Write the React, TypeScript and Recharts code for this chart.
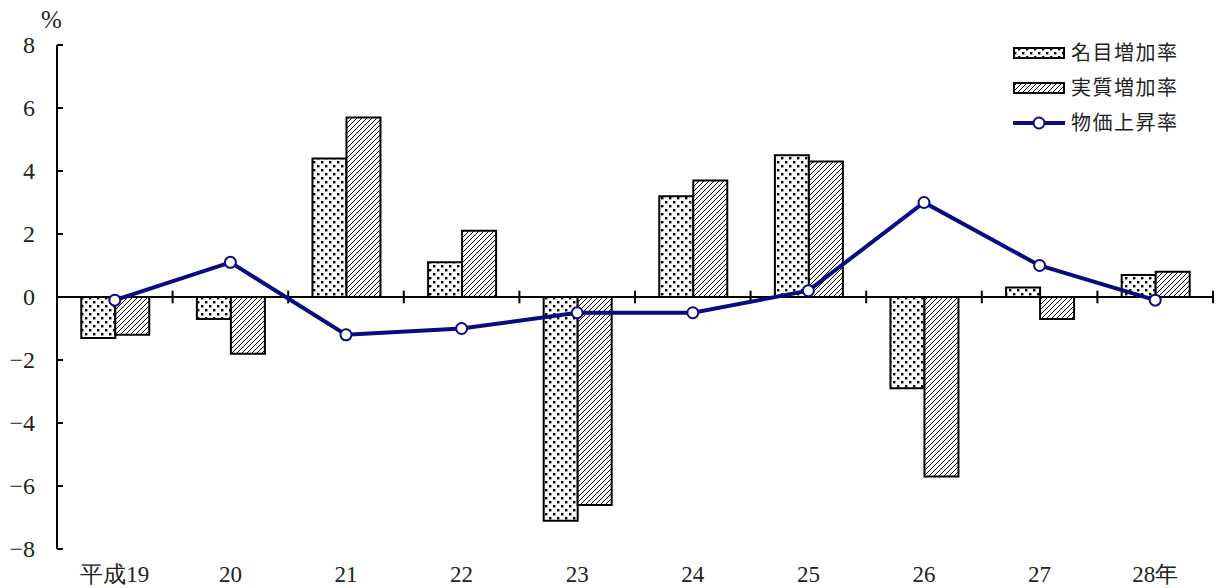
import { ComposedChart, Bar, Line, XAxis, YAxis, ReferenceLine } from 'recharts'

const SERIF = 'Liberation Serif, DejaVu Serif, serif'
const GOTHIC = 'Noto Sans CJK JP, Noto Sans, sans-serif'
const NAVY = '#0a0a82'

const WIDTH = 1218
const HEIGHT = 588
const MARGIN = { top: 45, right: 5, bottom: 0, left: 0 }
const Y_AXIS_W = 57

// 年次 (平成)
const years = ['平成19', '20', '21', '22', '23', '24', '25', '26', '27', '28年']
// 名目増加率・実質増加率・物価上昇率 (%)
const nominal = [-1.3, -0.7, 4.4, 1.1, -7.1, 3.2, 4.5, -2.9, 0.3, 0.7]
const real = [-1.2, -1.8, 5.7, 2.1, -6.6, 3.7, 4.3, -5.7, -0.7, 0.8]
const price = [-0.1, 1.1, -1.2, -1.0, -0.5, -0.5, 0.2, 3.0, 1.0, -0.1]
const yTicks = [-8, -6, -4, -2, 0, 2, 4, 6, 8]

const data = years.map((year, i) => ({ year, nominal: nominal[i], real: real[i], price: price[i] }))

// width of one category band
const BAND = (WIDTH - MARGIN.left - MARGIN.right - Y_AXIS_W) / years.length

type TickProps = { x?: number; y?: number; payload?: { value: number | string } }

function YTick({ x = 0, y = 0, payload }: TickProps) {
  const v = Number(payload?.value ?? 0)
  return (
    <g>
      <text x={x} y={y} dy="0.35em" textAnchor="end" fontSize={24} style={{ fontFamily: SERIF }} fill="#222">
        {String(v).replace('-', '−')}
      </text>
      {/* inward tick mark on the axis */}
      <line x1={x + 22} x2={x + 28} y1={y} y2={y} stroke="#000" strokeWidth={2} />
    </g>
  )
}

function XTick({ x = 0, y = 0, payload }: TickProps) {
  return (
    <text x={x} y={y} dy="0.71em" textAnchor="middle" fontSize={23} style={{ fontFamily: SERIF }} fill="#222">
      {String(payload?.value ?? '')}
    </text>
  )
}

// short tick across the zero line, on the right edge of a category band
type SegProps = { x1?: number; y1?: number; x2?: number; y2?: number }
function BoundaryTick({ x1 = 0, y1 = 0, x2 = 0, y2 = 0 }: SegProps) {
  return <line x1={x1 + BAND / 2} x2={x2 + BAND / 2} y1={y1} y2={y2} stroke="#000" strokeWidth={2} />
}

function Patterns() {
  return (
    <defs>
      <pattern id="dots" width={8} height={8} patternUnits="userSpaceOnUse">
        <rect width={8} height={8} fill="#fff" />
        <rect x={1} y={1} width={2.4} height={2.4} fill="#000" />
        <rect x={5} y={5} width={2.4} height={2.4} fill="#000" />
      </pattern>
      <pattern id="hatch" width={5} height={5} patternUnits="userSpaceOnUse">
        <rect width={5} height={5} fill="#fff" />
        <path d="M-1,1 L1,-1 M0,5 L5,0 M4,6 L6,4" stroke="#000" strokeWidth={1} />
      </pattern>
    </defs>
  )
}

function ChartLegend() {
  const rows = [
    { label: '名目増加率', kind: 'dots' },
    { label: '実質増加率', kind: 'hatch' },
    { label: '物価上昇率', kind: 'line' },
  ]
  return (
    <svg width={200} height={110} style={{ position: 'absolute', left: 1005, top: 35 }}>
      {rows.map((r, i) => {
        const cy = 18 + i * 35
        return (
          <g key={r.label}>
            {r.kind === 'line' ? (
              <>
                <line x1={8} x2={60} y1={cy} y2={cy} stroke={NAVY} strokeWidth={4} />
                <circle cx={34} cy={cy} r={5.5} fill="#fff" stroke={NAVY} strokeWidth={2} />
              </>
            ) : (
              <rect x={9} y={cy - 5} width={50} height={10} fill={`url(#${r.kind})`} stroke="#000" strokeWidth={2} />
            )}
            <text x={66} y={cy} dy="0.36em" fontSize={20} letterSpacing={1.5} style={{ fontFamily: GOTHIC }} fill="#222">
              {r.label}
            </text>
          </g>
        )
      })}
    </svg>
  )
}

export default function App() {
  return (
    <div style={{ position: 'absolute', left: 0, top: 0, width: WIDTH, height: HEIGHT, background: '#fff' }}>
      <ComposedChart
        width={WIDTH}
        height={HEIGHT}
        data={data}
        margin={MARGIN}
        barCategoryGap="21%"
        barGap={0}
      >
        <Patterns />
        <XAxis
          dataKey="year"
          axisLine={false}
          tickLine={false}
          height={39}
          tickSize={0}
          tickMargin={17}
          interval={0}
          tick={<XTick />}
        />
        <YAxis
          domain={[-8, 8]}
          ticks={yTicks}
          width={Y_AXIS_W}
          tickSize={0}
          tickMargin={22}
          tickLine={false}
          axisLine={{ stroke: '#000', strokeWidth: 2 }}
          tick={<YTick />}
          interval={0}
        />
        <Bar dataKey="nominal" fill="url(#dots)" stroke="#000" strokeWidth={2} isAnimationActive={false} />
        <Bar dataKey="real" fill="url(#hatch)" stroke="#000" strokeWidth={2} isAnimationActive={false} />
        <ReferenceLine y={0} stroke="#000" strokeWidth={2} />
        {years.map(yr => (
          <ReferenceLine
            key={yr}
            segment={[{ x: yr, y: 0.2 }, { x: yr, y: -0.2 }]}
            shape={BoundaryTick}
          />
        ))}
        <Line
          dataKey="price"
          stroke={NAVY}
          strokeWidth={4}
          dot={{ r: 5.5, fill: '#fff', stroke: NAVY, strokeWidth: 2 }}
          isAnimationActive={false}
        />
      </ComposedChart>
      <span style={{ position: 'absolute', left: 41, top: 6, fontSize: 25, fontFamily: SERIF, color: '#222' }}>%</span>
      <ChartLegend />
    </div>
  )
}
